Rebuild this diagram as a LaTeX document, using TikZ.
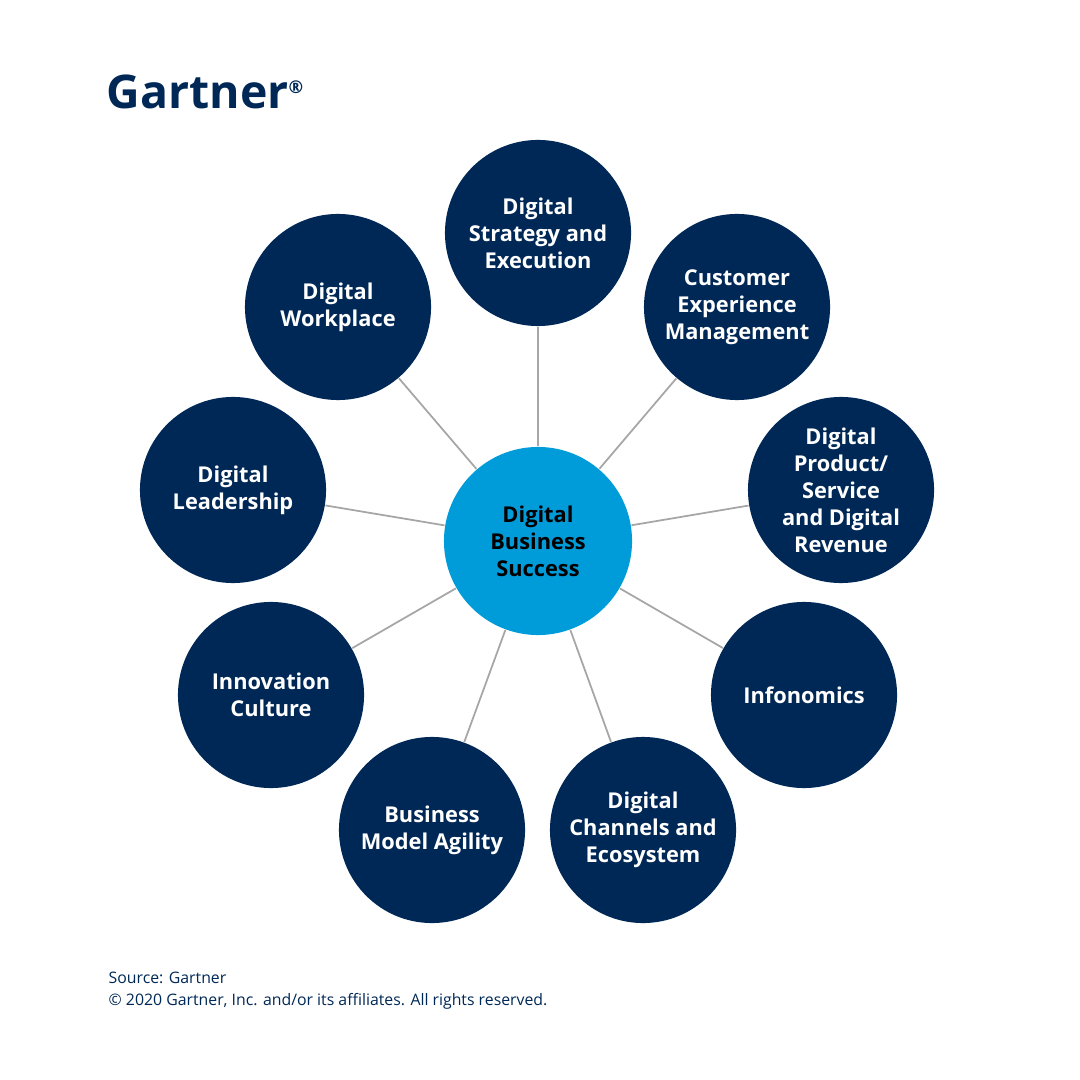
\documentclass[tikz,border=0pt]{standalone}
\usepackage{fontspec}
\setmainfont{Open Sans}
\definecolor{gnavy}{HTML}{002856}
\definecolor{gblue}{HTML}{009CDA}
\tikzset{
  pillar/.style={circle, fill=gnavy, minimum size=1.86cm, inner sep=0pt,
    text=white, align=center, font=\fontsize{6.2}{7.7}\selectfont\bfseries},
  hub/.style={circle, fill=gblue, minimum size=1.88cm, inner sep=0pt,
    text=black, align=center, font=\fontsize{6.2}{7.7}\selectfont\bfseries},
  spoke/.style={draw=gray!70, line width=0.5pt}
}
\begin{document}
\begin{tikzpicture}[x=0.01cm,y=-0.01cm]
    \useasboundingbox (0,0) rectangle (1080,1080);

    % Logo
    \node[anchor=west, inner sep=0pt, text=gnavy, font=\fontsize{13.2}{13.2}\selectfont\bfseries] (logo) at (106,92) {Gartner\textsuperscript{\tiny\textregistered}};

    % Hub
    \node[hub] (hub) at (538,541) {Digital\\Business\\Success};

    % Pillars
    \node[pillar] (strategy) at (538,233) {Digital\\Strategy and\\Execution};
    \node[pillar] (customer) at (737,307) {Customer\\Experience\\Management};
    \node[pillar] (product) at (841,490) {Digital\\Product/\\Service\\and Digital\\Revenue};
    \node[pillar] (infonomics) at (804,695) {Infonomics};
    \node[pillar] (channels) at (643,830) {Digital\\Channels and\\Ecosystem};
    \node[pillar] (agility) at (432,830) {Business\\Model Agility};
    \node[pillar] (culture) at (271,695) {Innovation\\Culture};
    \node[pillar] (leadership) at (233,490) {Digital\\Leadership};
    \node[pillar] (workplace) at (338,307) {Digital\\Workplace};

    % Spokes
    \foreach \p in {strategy,customer,product,infonomics,channels,agility,culture,leadership,workplace}
      \draw[spoke] (hub) -- (\p);

    % Source
    \node[anchor=west, inner sep=0pt, text=gnavy, font=\fontsize{4.5}{6.3}\selectfont, align=left] (source) at (108,991)
      {Source: Gartner\\\textcopyright{} 2020 Gartner, Inc. and/or its affiliates. All rights reserved.};
\end{tikzpicture}
\end{document}
